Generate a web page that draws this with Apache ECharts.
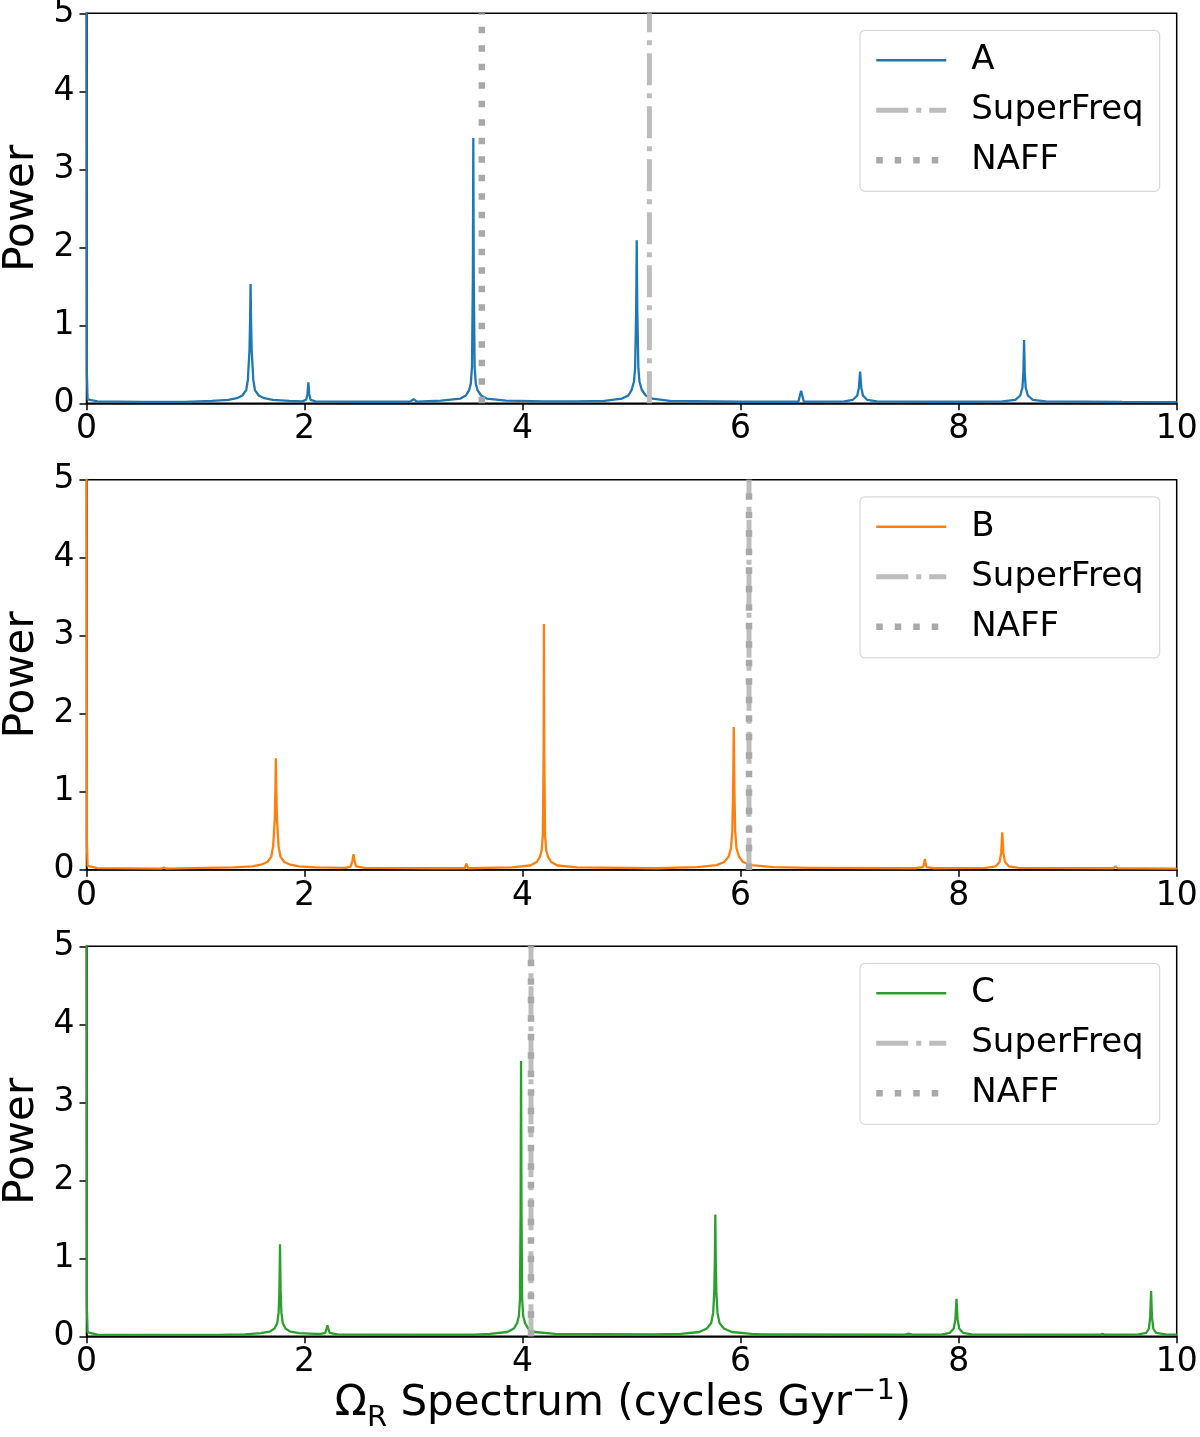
<!DOCTYPE html>
<html>
<head>
<meta charset="utf-8">
<script src="https://cdn.jsdelivr.net/npm/echarts@6/dist/echarts.min.js"></script>
<style>
html,body{margin:0;padding:0;background:#fff;}
#chart{width:1200px;height:1437px;}
</style>
</head>
<body>
<div id="chart"></div>
<script>
// ---------- DATA ----------
const seriesNames = ['A', 'B', 'C'];
const seriesColors = ['#1f77b4', '#ff7f0e', '#2ca02c'];
const xTicks = [0, 2, 4, 6, 8, 10];
const yTicks = [0, 1, 2, 3, 4, 5];

// NAFF and SuperFreq frequency estimates (vertical lines), one per panel
const naffFreq = [3.626, 6.077, 4.077];
const superFreq = [5.163, 6.077, 4.077];

// Power spectra: [frequency, power]
const specA = [
  [0,6],[0.003,0.4],[0.01,0.05],[0.1,0.025],[0.5,0.018],[0.9,0.018],
  [1.15,0.03],[1.3,0.045],[1.38,0.065],[1.43,0.1],[1.465,0.17],[1.48,0.3],[1.495,0.68],[1.501,1.1],[1.505,1.53],
  [1.509,1.1],[1.515,0.68],[1.53,0.3],[1.545,0.17],[1.58,0.1],[1.63,0.065],[1.71,0.045],[1.86,0.03],
  [1.98,0.025],[2.015,0.045],[2.027,0.12],[2.035,0.27],[2.043,0.12],[2.055,0.045],[2.1,0.025],
  [2.5,0.02],[2.97,0.02],[3.0,0.055],[3.03,0.02],
  [3.25,0.035],[3.43,0.06],[3.48,0.1],[3.51,0.17],[3.525,0.25],[3.536,0.47],[3.544,1.6],[3.548,3.4],
  [3.552,1.6],[3.56,0.47],[3.571,0.25],[3.586,0.17],[3.62,0.1],[3.67,0.06],[3.85,0.035],
  [4.2,0.025],[4.5,0.025],
  [4.75,0.03],[4.91,0.06],[4.97,0.1],[5.0,0.17],[5.022,0.28],[5.032,0.45],[5.042,1.2],[5.047,2.09],
  [5.052,1.2],[5.062,0.45],[5.072,0.28],[5.094,0.17],[5.13,0.1],[5.19,0.06],[5.35,0.03],
  [6.0,0.02],[6.53,0.02],[6.555,0.16],[6.58,0.02],
  [6.95,0.025],[7.03,0.045],[7.07,0.1],[7.085,0.2],[7.096,0.405],[7.107,0.2],[7.122,0.1],[7.16,0.045],[7.25,0.025],
  [7.9,0.02],[8.05,0.02],[8.06,0.045],[8.07,0.02],
  [8.4,0.025],[8.52,0.045],[8.565,0.1],[8.585,0.2],[8.594,0.4],[8.6,0.81],[8.606,0.4],[8.615,0.2],[8.635,0.1],[8.68,0.045],[8.8,0.025],
  [9.5,0.018],[10,0.015]
];
const specB = [
  [0,6],[0.003,0.4],[0.01,0.05],[0.1,0.022],[0.69,0.016],[0.71,0.028],[0.73,0.016],
  [1.35,0.03],[1.52,0.045],[1.6,0.065],[1.66,0.1],[1.695,0.17],[1.712,0.3],[1.727,0.65],[1.733,1.05],[1.737,1.43],
  [1.741,1.05],[1.747,0.65],[1.762,0.3],[1.779,0.17],[1.814,0.1],[1.87,0.065],[1.95,0.045],[2.1,0.03],
  [2.38,0.025],[2.425,0.045],[2.44,0.12],[2.449,0.2],[2.458,0.12],[2.473,0.045],[2.55,0.025],
  [3.2,0.02],[3.47,0.02],[3.484,0.08],[3.5,0.02],
  [3.9,0.03],[4.07,0.055],[4.13,0.1],[4.16,0.17],[4.175,0.25],[4.186,0.45],[4.193,1.5],[4.196,3.15],
  [4.199,1.5],[4.206,0.45],[4.217,0.25],[4.232,0.17],[4.262,0.1],[4.32,0.055],[4.5,0.03],
  [5.22,0.02],[5.23,0.03],[5.24,0.02],
  [5.6,0.035],[5.78,0.06],[5.85,0.1],[5.89,0.17],[5.912,0.28],[5.924,0.5],[5.932,1.1],[5.937,1.83],
  [5.942,1.1],[5.95,0.5],[5.962,0.28],[5.984,0.17],[6.02,0.1],[6.1,0.06],[6.3,0.035],
  [6.64,0.025],[6.65,0.035],[6.66,0.025],
  [7.6,0.02],[7.675,0.035],[7.684,0.09],[7.69,0.14],[7.696,0.09],[7.705,0.035],[7.78,0.02],
  [8.25,0.025],[8.34,0.045],[8.375,0.1],[8.39,0.22],[8.4,0.48],[8.41,0.22],[8.425,0.1],[8.46,0.045],[8.55,0.025],
  [9.42,0.02],[9.44,0.045],[9.46,0.02],[10,0.015]
];
const specC = [
  [0,6],[0.003,0.4],[0.01,0.05],[0.1,0.022],[1.2,0.018],
  [1.45,0.025],[1.6,0.04],[1.68,0.06],[1.725,0.1],[1.75,0.17],[1.762,0.3],[1.769,0.55],[1.772,0.85],[1.775,1.18],
  [1.778,0.85],[1.781,0.55],[1.788,0.3],[1.8,0.17],[1.825,0.1],[1.87,0.06],[1.95,0.04],[2.1,0.03],
  [2.15,0.03],[2.19,0.045],[2.202,0.1],[2.21,0.14],[2.218,0.1],[2.23,0.045],[2.3,0.025],
  [3.0,0.02],[3.54,0.02],[3.55,0.032],[3.56,0.02],
  [3.7,0.03],[3.86,0.055],[3.92,0.1],[3.95,0.17],[3.966,0.26],[3.976,0.47],[3.982,1.6],[3.986,3.53],
  [3.99,1.6],[3.996,0.47],[4.006,0.26],[4.022,0.17],[4.052,0.1],[4.11,0.055],[4.3,0.03],
  [5.2,0.025],
  [5.45,0.03],[5.62,0.055],[5.69,0.1],[5.73,0.17],[5.748,0.3],[5.758,0.55],[5.764,1.0],[5.768,1.56],
  [5.772,1.0],[5.778,0.55],[5.788,0.3],[5.806,0.17],[5.846,0.1],[5.92,0.055],[6.1,0.03],
  [6.2,0.025],[6.21,0.035],[6.22,0.025],
  [7.5,0.02],[7.54,0.035],[7.58,0.02],
  [7.85,0.025],[7.92,0.045],[7.955,0.1],[7.97,0.22],[7.98,0.48],[7.99,0.22],[8.005,0.1],[8.04,0.045],[8.12,0.025],
  [9.3,0.02],[9.32,0.032],[9.34,0.02],
  [9.65,0.025],[9.72,0.045],[9.745,0.1],[9.757,0.25],[9.765,0.58],[9.773,0.25],[9.785,0.1],[9.81,0.045],[9.9,0.025],[10,0.02]
];
const spectra = [specA, specB, specC];

// ---------- CHART ----------
const FONT = 'DejaVu Sans';
const panelTops = [13.3, 479.8, 946.3];
const PLOT_LEFT = 86.5, PLOT_W = 1090.2, PLOT_H = 390;
const yMin = yTicks[0], yMax = yTicks[yTicks.length - 1];

const grids = [], xAxes = [], yAxes = [], series = [], legends = [];
const superDash = [32, 8, 5, 8];
const naffDash = [6.5, 12];

panelTops.forEach((top, i) => {
  grids.push({left: PLOT_LEFT, top: top, width: PLOT_W, height: PLOT_H,
    outerBoundsMode: 'none', containLabel: false,
    show: true, borderColor: '#000', borderWidth: 1.5, backgroundColor: 'transparent'});
  xAxes.push({type: 'value', gridIndex: i, min: xTicks[0], max: xTicks[xTicks.length - 1], interval: 2,
    axisLine: {show: true, onZero: false, lineStyle: {color: '#000', width: 1.5}},
    axisTick: {show: true, inside: false, length: 7, lineStyle: {color: '#000', width: 1.5}},
    axisLabel: {fontSize: 33, fontFamily: FONT, color: '#000', margin: 10},
    splitLine: {show: false}});
  yAxes.push({type: 'value', gridIndex: i, min: yMin, max: yMax, interval: 1,
    name: 'Power', nameLocation: 'middle', nameGap: 41,
    nameTextStyle: {fontSize: 42, fontFamily: FONT, color: '#000'},
    axisLine: {show: true, lineStyle: {color: '#000', width: 1.5}},
    axisTick: {show: true, inside: false, length: 7, lineStyle: {color: '#000', width: 1.5}},
    axisLabel: {fontSize: 33, fontFamily: FONT, color: '#000', margin: 12},
    splitLine: {show: false}});
  series.push({type: 'line', name: seriesNames[i], xAxisIndex: i, yAxisIndex: i,
    data: spectra[i], showSymbol: false, symbol: 'none', clip: true, z: 3,
    lineStyle: {color: seriesColors[i], width: 2.3}, itemStyle: {color: seriesColors[i]}});
  series.push({type: 'line', name: 'SuperFreq', xAxisIndex: i, yAxisIndex: i,
    data: [[superFreq[i], yMin], [superFreq[i], yMax]], showSymbol: false, symbol: 'none', z: 4,
    lineStyle: {color: '#bdbdbd', width: 5, type: superDash}, itemStyle: {color: '#bdbdbd'}});
  series.push({type: 'line', name: 'NAFF', xAxisIndex: i, yAxisIndex: i,
    data: [[naffFreq[i], yMin], [naffFreq[i], yMax]], showSymbol: false, symbol: 'none', z: 5,
    lineStyle: {color: '#a9a9a9', width: 6.5, type: naffDash}, itemStyle: {color: '#a9a9a9'}});
  legends.push({orient: 'vertical', left: 860, top: top + 17,
    padding: [13, 16, 14, 13], itemWidth: 70, itemHeight: 30, itemGap: 16,
    backgroundColor: 'rgba(255,255,255,0.8)', borderColor: '#d9d9d9', borderWidth: 1.2, borderRadius: 5,
    selectedMode: false,
    textStyle: {fontSize: 34, fontFamily: FONT, color: '#000', padding: [0, 0, 0, 20], lineHeight: 30},
    data: [
      {name: seriesNames[i], itemStyle: {opacity: 0}, lineStyle: {width: 2.5}},
      {name: 'SuperFreq', itemStyle: {opacity: 0}, lineStyle: {width: 5}},
      {name: 'NAFF', itemStyle: {opacity: 0}, lineStyle: {width: 6.5}}
    ]});
});

const chart = echarts.init(document.getElementById('chart'), null, {renderer: 'canvas'});
chart.setOption({
  animation: false,
  backgroundColor: '#fff',
  grid: grids, xAxis: xAxes, yAxis: yAxes, series: series, legend: legends,
  graphic: [{
    type: 'text', x: 623, y: 1383,
    style: {
      text: 'Ω{sub|R} Spectrum (cycles Gyr{sup|−1})',
      align: 'center', verticalAlign: 'top',
      fontSize: 42, fontFamily: FONT, fill: '#000',
      rich: {
        sub: {fontSize: 29, fontFamily: FONT, verticalAlign: 'bottom', padding: [0, 0, -8, 0]},
        sup: {fontSize: 29, fontFamily: FONT, verticalAlign: 'top', padding: [-6, 0, 0, 0]}
      }
    }
  }]
});
</script>
</body>
</html>
